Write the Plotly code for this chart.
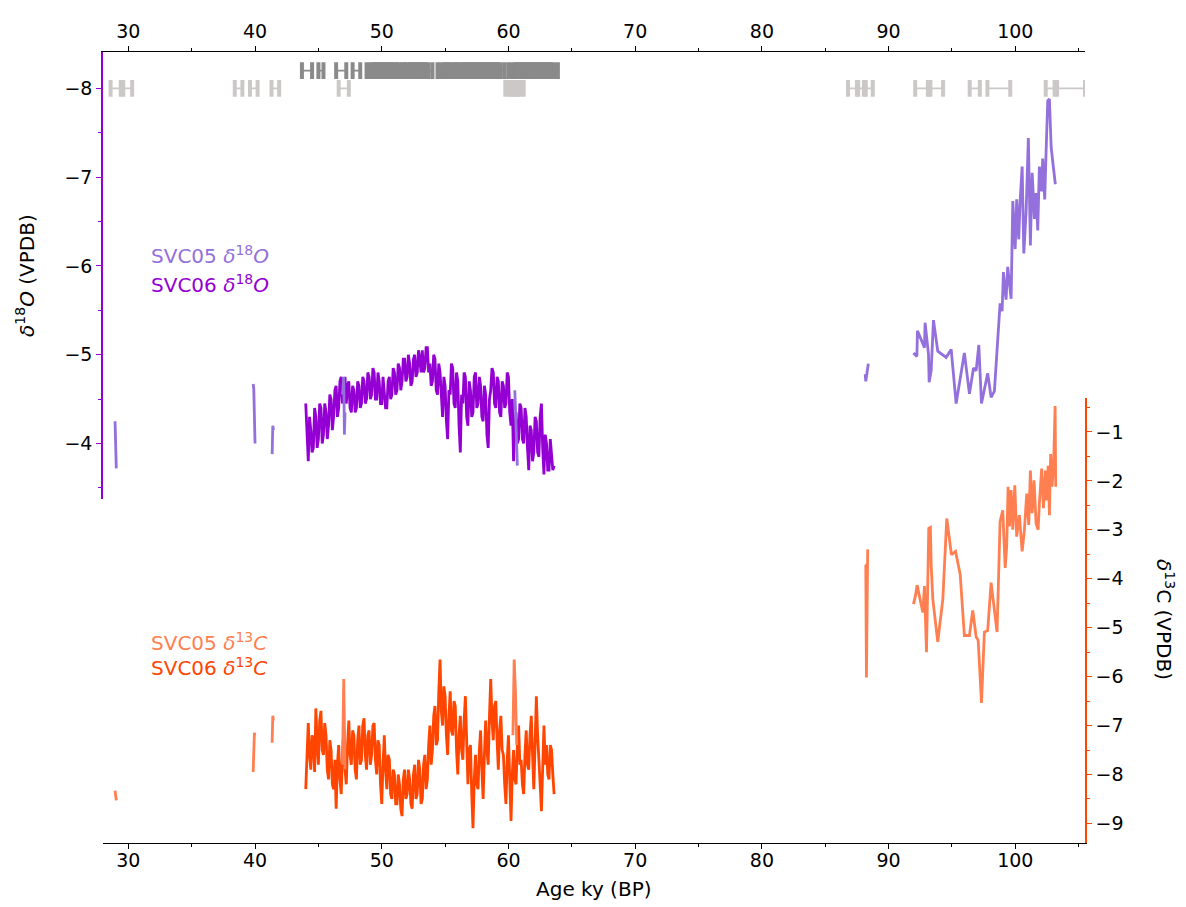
import numpy as np
import plotly.graph_objects as go

# ---------------- data ----------------
svc06_age = [44.0, 44.1, 44.2, 44.3, 44.4, 44.5, 44.6, 44.7, 44.8, 44.9,
             45.0, 45.1, 45.2, 45.3, 45.4, 45.5, 45.6, 45.7, 45.8, 45.9,
             46.0, 46.1, 46.2, 46.3, 46.4, 46.5, 46.6, 46.7, 46.8, 46.9,
             47.0, 47.1, 47.2, 47.3, 47.4, 47.5, 47.6, 47.7, 47.8, 47.9,
             48.0, 48.1, 48.2, 48.3, 48.4, 48.5, 48.6, 48.7, 48.8, 48.9,
             49.0, 49.1, 49.2, 49.3, 49.4, 49.5, 49.6, 49.7, 49.8, 49.9,
             50.0, 50.1, 50.2, 50.3, 50.4, 50.5, 50.6, 50.7, 50.8, 50.9,
             51.0, 51.1, 51.2, 51.3, 51.4, 51.5, 51.6, 51.7, 51.8, 51.9,
             52.0, 52.1, 52.2, 52.3, 52.4, 52.5, 52.6, 52.7, 52.8, 52.9,
             53.0, 53.1, 53.2, 53.3, 53.4, 53.5, 53.6, 53.7, 53.8, 53.9,
             54.0, 54.1, 54.2, 54.3, 54.4, 54.5, 54.6, 54.7, 54.8, 54.9,
             55.0, 55.1, 55.2, 55.3, 55.4, 55.5, 55.6, 55.7, 55.8, 55.9,
             56.0, 56.1, 56.2, 56.3, 56.4, 56.5, 56.6, 56.7, 56.8, 56.9,
             57.0, 57.1, 57.2, 57.3, 57.4, 57.5, 57.6, 57.7, 57.8, 57.9,
             58.0, 58.1, 58.2, 58.3, 58.4, 58.5, 58.6, 58.7, 58.8, 58.9,
             59.0, 59.1, 59.2, 59.3, 59.4, 59.5, 59.6, 59.7, 59.8, 59.9,
             60.0, 60.1, 60.2, 60.3, 60.4, 60.5, 60.6, 60.7, 60.8, 60.9,
             61.0, 61.1, 61.2, 61.3, 61.4, 61.5, 61.6, 61.7, 61.8, 61.9,
             62.0, 62.1, 62.2, 62.3, 62.4, 62.5, 62.6, 62.7, 62.8, 62.9,
             63.0, 63.1, 63.2, 63.3, 63.4, 63.5, 63.6]

svc06_d18o = [-4.45, -4.00, -3.80, -4.30, -4.15, -3.90, -3.95, -4.40, -4.30, -3.95,
              -4.05, -4.45, -4.40, -4.00, -4.10, -4.45, -4.35, -4.05, -4.20, -4.55,
              -4.50, -4.15, -4.30, -4.60, -4.65, -4.30, -4.40, -4.70, -4.75, -4.45,
              -4.55, -4.75, -4.45, -4.65, -4.70, -4.40, -4.35, -4.65, -4.60, -4.35,
              -4.40, -4.70, -4.65, -4.40, -4.45, -4.75, -4.70, -4.45, -4.50, -4.80,
              -4.75, -4.50, -4.55, -4.85, -4.80, -4.50, -4.50, -4.80, -4.70, -4.45,
              -4.45, -4.75, -4.60, -4.40, -4.40, -4.70, -4.75, -4.50, -4.55, -4.85,
              -4.80, -4.55, -4.60, -4.90, -4.85, -4.60, -4.70, -4.95, -4.95, -4.70,
              -4.75, -5.00, -4.90, -4.65, -4.70, -4.95, -5.00, -4.75, -4.80, -5.05,
              -4.95, -4.80, -5.05, -4.80, -4.85, -5.08, -5.08, -4.80, -4.90, -4.65,
              -4.70, -5.00, -4.95, -4.60, -4.55, -4.90, -4.80, -4.45, -4.30, -4.75,
              -4.65, -4.25, -4.05, -4.60, -4.55, -4.90, -4.85, -4.45, -4.40, -4.80,
              -4.70, -4.20, -3.90, -4.55, -4.45, -4.80, -4.75, -4.30, -4.20, -4.70,
              -4.60, -4.30, -4.35, -4.75, -4.80, -4.40, -4.45, -4.75, -4.65, -4.30,
              -4.25, -4.65, -4.55, -4.10, -3.95, -4.50, -4.60, -4.85, -4.80, -4.45,
              -4.40, -4.75, -4.70, -4.35, -4.30, -4.70, -4.65, -4.40, -4.45, -4.80,
              -4.75, -4.35, -4.20, -4.50, -3.80, -4.20, -4.35, -4.00, -4.05, -4.45,
              -4.40, -4.05, -4.00, -4.40, -4.30, -3.95, -3.70, -4.20, -4.15, -3.80,
              -3.90, -4.30, -4.25, -3.90, -3.85, -4.30, -4.45, -3.95, -3.65, -4.10,
              -4.00, -3.70, -3.70, -4.05, -3.90, -3.70, -3.75]

svc06_d13c = [-8.30, -7.40, -6.95, -7.60, -7.90, -7.20, -7.30, -7.95, -6.65, -7.40,
              -7.80, -6.90, -6.70, -7.50, -7.60, -6.95, -7.20, -7.90, -8.10, -7.30,
              -7.50, -8.20, -8.30, -7.70, -8.70, -7.80, -7.40, -8.10, -8.40, -7.60,
              -7.10, -7.90, -8.20, -7.40, -6.90, -7.60, -7.80, -7.10, -7.20, -7.90,
              -8.10, -7.30, -7.00, -7.80, -7.70, -7.00, -6.85, -7.60, -7.90, -7.20,
              -7.10, -7.80, -7.60, -7.00, -6.95, -7.70, -8.00, -7.30, -7.40, -8.20,
              -8.60, -7.80, -7.20, -7.90, -8.30, -7.60, -7.70, -8.40, -8.50, -7.90,
              -8.00, -8.60, -8.60, -8.00, -8.20, -8.70, -8.85, -8.10, -7.90, -8.50,
              -8.40, -7.90, -8.10, -8.60, -8.70, -8.00, -7.80, -8.50, -8.40, -7.70,
              -7.90, -8.60, -8.50, -7.80, -7.60, -8.30, -8.10, -7.40, -7.00, -7.80,
              -7.50, -6.80, -6.60, -7.40, -7.30, -6.30, -5.65, -6.70, -7.00, -6.20,
              -6.40, -7.20, -7.60, -6.80, -6.30, -7.10, -7.20, -6.50, -6.60, -7.50,
              -8.00, -7.20, -6.80, -7.50, -7.70, -6.90, -6.40, -7.30, -8.20, -7.50,
              -7.40, -8.40, -9.10, -8.10, -7.60, -8.20, -8.30, -7.50, -7.10, -7.90,
              -8.50, -7.60, -6.90, -7.50, -7.80, -6.80, -6.05, -6.90, -7.30, -6.60,
              -6.50, -7.30, -7.90, -7.10, -6.80, -7.50, -7.60, -8.20, -8.60, -7.70,
              -7.20, -8.10, -8.95, -8.00, -7.50, -8.10, -8.20, -7.40, -7.00, -7.80,
              -7.70, -8.20, -8.40, -7.60, -7.10, -7.80, -7.90, -7.20, -6.80, -7.60,
              -8.30, -7.40, -6.40, -7.20, -7.60, -8.20, -8.75, -7.80, -7.00, -7.80,
              -7.40, -8.00, -8.10, -7.40, -7.50, -8.00, -8.40]

svc05_age_o = [28.95, 29.0, 29.05, None,
               39.85, 39.9, 39.95, 40.0, None,
               41.35, 41.4, 41.45, None,
               46.9, 47.0, 47.05, 47.1, None,
               60.5, 60.6, 60.7, None,
               88.15, 88.2, 88.3, 88.4, None,
               91.96, 92.23, 92.28, 92.83, 92.88, 93.15, 93.20, 93.36, 93.54, 93.88,
               94.54, 94.94, 95.33, 95.98, 96.38, 96.70, 96.91, 97.12, 97.33, 97.82,
               98.09, 98.35, 98.80, 98.96, 99.06, 99.27, 99.40, 99.67, 99.80, 99.99,
               100.11, 100.27, 100.38, 100.54, 100.67, 100.85, 101.03, 101.19, 101.33, 101.51,
               101.64, 101.77, 101.90, 102.08, 102.16, 102.32, 102.43, 102.56, 102.69, 102.83,
               102.95, 103.16]
svc05_d18o = [-4.25, -3.75, -3.72, None,
              -4.67, -4.62, -4.30, -4.00, None,
              -3.88, -4.20, -4.15, None,
              -4.55, -4.75, -4.10, -4.35, None,
              -4.60, -4.10, -3.75, None,
              -4.78, -4.70, -4.80, -4.90, None,
              -5.02, -4.98, -5.27, -5.08, -5.36, -5.00, -4.69, -4.82, -5.39, -5.04,
              -4.97, -5.06, -4.45, -5.02, -4.56, -4.85, -4.82, -5.11, -4.45, -4.79,
              -4.52, -4.59, -5.58, -5.49, -5.93, -5.62, -5.99, -5.63, -6.73, -6.19,
              -6.75, -6.30, -6.73, -7.12, -6.14, -6.60, -7.44, -6.23, -7.05, -6.53,
              -6.82, -6.40, -7.12, -6.84, -7.21, -6.75, -7.29, -7.86, -7.88, -7.34,
              -7.18, -6.92]

svc05_age_c = [28.95, 29.0, 29.05, None,
               39.85, 39.9, 39.95, 40.0, None,
               41.35, 41.4, 41.45, None,
               46.9, 47.0, 47.1, None,
               60.35, 60.45, 60.55, 60.65, None,
               88.15, 88.2, 88.25, 88.35, None,
               91.96, 92.12, 92.25, 92.57, 92.70, 92.83, 92.99, 93.17, 93.30, 93.36,
               93.49, 93.88, 94.28, 94.59, 94.96, 95.28, 95.65, 95.98, 96.38, 96.64,
               96.91, 97.07, 97.33, 97.56, 97.82, 98.09, 98.56, 98.80, 99.01, 99.20,
               99.32, 99.43, 99.54, 99.67, 99.80, 99.96, 100.11, 100.32, 100.54, 100.72,
               100.90, 101.06, 101.19, 101.33, 101.48, 101.64, 101.80, 101.90, 102.08, 102.22,
               102.38, 102.48, 102.59, 102.69, 102.79, 102.90, 103.03, 103.14, 103.19]
svc05_d13c = [-8.33, -8.40, -8.53, None,
              -7.95, -7.40, -7.15, -7.20, None,
              -7.35, -6.80, -6.90, None,
              -7.80, -6.05, -7.90, None,
              -7.20, -5.65, -6.30, -7.40, None,
              -3.72, -3.72, -6.02, -3.40, None,
              -4.52, -4.35, -4.13, -4.52, -4.69, -4.15, -5.50, -2.97, -2.95, -3.71,
              -4.42, -5.29, -4.42, -2.77, -3.51, -3.44, -3.91, -5.16, -5.16, -4.65,
              -5.19, -5.26, -6.54, -5.09, -5.06, -4.08, -5.09, -2.83, -2.60, -3.78,
              -3.34, -2.12, -2.93, -2.19, -3.00, -2.09, -3.14, -2.70, -3.44, -3.00,
              -2.26, -2.90, -1.79, -2.66, -1.99, -2.87, -3.00, -2.46, -1.75, -2.56,
              -1.79, -2.40, -1.69, -2.70, -1.45, -2.12, -1.62, -0.47, -2.12]

# U-Th ages (ky) and uncertainties
svc06_dates = [44.1, 45.2, 46.8, 48.0,
               49.1, 49.35, 49.6, 49.85, 50.1, 50.35, 50.6, 50.85, 51.1, 51.5, 51.9, 52.15,
               52.4, 52.65, 52.9, 53.15, 53.4, 53.7,
               54.7, 54.95, 55.2, 55.6, 56.0, 56.25, 56.5, 56.75, 57.0, 57.25, 57.5, 57.75,
               58.0, 58.3, 58.6, 58.85, 59.1, 59.4,
               60.3, 60.55, 60.8, 61.05, 61.3, 61.55, 61.8, 62.05, 62.3, 62.55, 62.8, 63.05,
               63.3, 63.6]
svc06_date_err = [0.4, 0.2, 0.4, 0.3,
                  0.3, 0.3, 0.3, 0.3, 0.3, 0.3, 0.3, 0.3, 0.3, 0.3, 0.3, 0.3,
                  0.3, 0.3, 0.3, 0.3, 0.3, 0.3,
                  0.3, 0.3, 0.3, 0.3, 0.3, 0.3, 0.3, 0.3, 0.3, 0.3, 0.3, 0.3,
                  0.3, 0.3, 0.3, 0.3, 0.3, 0.3,
                  0.3, 0.3, 0.3, 0.3, 0.3, 0.3, 0.3, 0.3, 0.3, 0.3, 0.3, 0.3,
                  0.3, 0.3]
svc05_dates = [29.0, 29.95, 38.7, 39.9, 41.6, 47.0,
               60.0, 60.25, 60.5, 60.75, 60.95,
               87.2, 87.85, 88.4, 92.6, 93.8, 96.8, 98.7, 102.75, 104.4]
svc05_date_err = [0.4, 0.35, 0.3, 0.3, 0.3, 0.4,
                  0.25, 0.25, 0.25, 0.25, 0.25,
                  0.4, 0.35, 0.35, 0.5, 0.5, 0.4, 0.9, 0.35, 1.1]
svc06_date_level = -8.2
svc05_date_level = -8.0

C05_O = "#9370DB"
C06_O = "#9400D3"
C05_C = "#FF7F50"
C06_C = "#FF4500"
G06 = "#8A8A8A"
G05 = "#CCC8C8"
FONT = "DejaVu Sans"
FS = 20
TFS = 19
LW = 2.8

fig = go.Figure()

# oxygen
fig.add_trace(go.Scatter(x=svc06_age, y=svc06_d18o, mode="lines", line=dict(color=C06_O, width=LW),
                         xaxis="x", yaxis="y", showlegend=False))
fig.add_trace(go.Scatter(x=svc05_age_o, y=svc05_d18o, mode="lines", line=dict(color=C05_O, width=LW),
                         xaxis="x", yaxis="y", showlegend=False, connectgaps=False))
# carbon
fig.add_trace(go.Scatter(x=svc06_age, y=svc06_d13c, mode="lines", line=dict(color=C06_C, width=LW),
                         xaxis="x", yaxis="y2", showlegend=False))
fig.add_trace(go.Scatter(x=svc05_age_c, y=svc05_d13c, mode="lines", line=dict(color=C05_C, width=LW),
                         xaxis="x", yaxis="y2", showlegend=False, connectgaps=False))


def add_dates(ages, errs, level, color):
    ages = np.array(ages)
    errs = np.array(errs)
    fig.add_trace(go.Scatter(x=ages, y=[level] * len(ages), mode="markers",
                             marker=dict(size=1, color=color, opacity=0),
                             error_x=dict(type="data", array=errs, visible=True, color=color,
                                          thickness=1.6, width=0),
                             xaxis="x", yaxis="y", showlegend=False))
    caps = np.concatenate([ages - errs, ages + errs])
    fig.add_trace(go.Scatter(x=caps, y=[level] * len(caps), mode="markers",
                             marker=dict(symbol="line-ns", size=12, line=dict(color=color, width=4)),
                             xaxis="x", yaxis="y", showlegend=False))


add_dates(svc06_dates, svc06_date_err, svc06_date_level, G06)
add_dates(svc05_dates, svc05_date_err, svc05_date_level, G05)

# empty trace so that the top axis gets drawn
fig.add_trace(go.Scatter(x=[], y=[], xaxis="x2", yaxis="y", showlegend=False))

tickfont = dict(family=FONT, size=TFS, color="black")
xcommon = dict(range=[28.0, 105.5], dtick=10, tick0=0, ticks="outside", ticklen=5, tickwidth=1,
               tickcolor="black", showline=True, linecolor="black", linewidth=1, showgrid=False,
               zeroline=False, tickfont=tickfont,
               minor=dict(dtick=5, ticks="outside", ticklen=3, tickwidth=1, tickcolor="black"))

fig.update_layout(
    width=1186, height=907,
    margin=dict(l=95, r=109, t=36, b=72),
    paper_bgcolor="white", plot_bgcolor="rgba(0,0,0,0)",
    font=dict(family=FONT, size=FS, color="black"),
    xaxis=dict(**xcommon, anchor="y2", side="bottom", ticklabelstandoff=-5),
    xaxis2=dict(**xcommon, anchor="y", side="top", overlaying="x", matches="x"),
    yaxis=dict(domain=[0.4355, 1.0], range=[-3.38, -8.41], anchor="x", side="left",
               dtick=1, tick0=0, ticks="outside", ticklen=5, tickwidth=1, tickcolor=C06_O,
               showline=True, linecolor=C06_O, linewidth=1.5, showgrid=False, zeroline=False,
               tickfont=tickfont,
               minor=dict(dtick=0.5, ticks="outside", ticklen=3, tickwidth=1, tickcolor=C06_O)),
    yaxis2=dict(domain=[0.0, 0.563], range=[-9.40, -0.30], anchor="x", side="right",
                dtick=1, tick0=0, ticks="outside", ticklen=5, tickwidth=1, tickcolor=C06_C,
                showline=True, linecolor=C06_C, linewidth=1.5, showgrid=False, zeroline=False,
                tickfont=tickfont,
                minor=dict(dtick=0.5, ticks="outside", ticklen=3, tickwidth=1, tickcolor=C06_C)),
)

ann = [
    dict(text="Age ky (BP)", x=0.5, y=-0.058, xanchor="center", yanchor="middle"),
    dict(text="<i>δ</i><sup>18</sup><i>O</i> (VPDB)", x=-0.0794, y=0.717, xanchor="center",
         yanchor="middle", textangle=-90),
    dict(text="<i>δ</i><sup>13</sup>C (VPDB)", x=1.0815, y=0.283, xanchor="center",
         yanchor="middle", textangle=90),
    dict(text="SVC05 <i>δ</i><sup>18</sup><i>O</i>", x=0.047, y=0.7434, xanchor="left",
         yanchor="middle", font=dict(color=C05_O, family=FONT, size=FS)),
    dict(text="SVC06 <i>δ</i><sup>18</sup><i>O</i>", x=0.047, y=0.7071, xanchor="left",
         yanchor="middle", font=dict(color=C06_O, family=FONT, size=FS)),
    dict(text="SVC05 <i>δ</i><sup>13</sup><i>C</i>", x=0.047, y=0.254, xanchor="left",
         yanchor="middle", font=dict(color=C05_C, family=FONT, size=FS)),
    dict(text="SVC06 <i>δ</i><sup>13</sup><i>C</i>", x=0.047, y=0.2228, xanchor="left",
         yanchor="middle", font=dict(color=C06_C, family=FONT, size=FS)),
]
for a in ann:
    a.setdefault("font", dict(family=FONT, size=FS, color="black"))
    fig.add_annotation(xref="paper", yref="paper", showarrow=False, **a)

fig.write_html("out.html")
